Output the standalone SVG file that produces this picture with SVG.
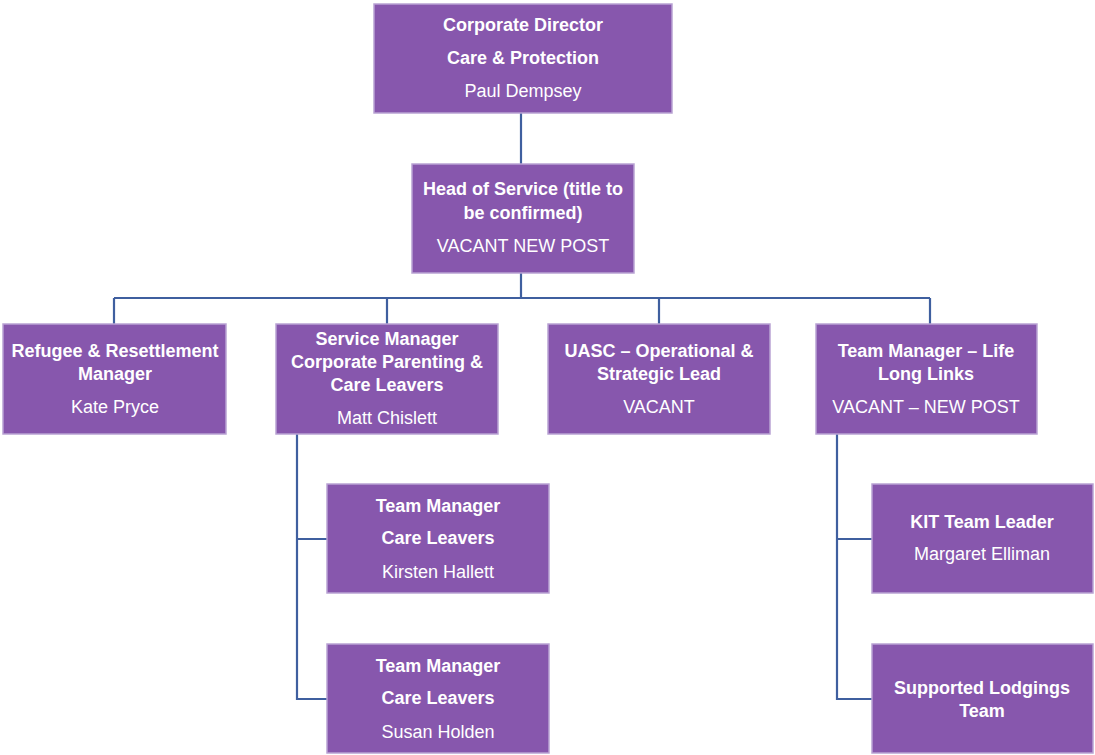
<svg xmlns="http://www.w3.org/2000/svg" width="1095" height="755" viewBox="0 0 1095 755">
<style>
.box{fill:#8757ad;stroke:#b9a3d3;stroke-width:1.5}
.t{font-family:"Liberation Sans",Arial,sans-serif;font-size:18px;fill:#ffffff;text-anchor:middle}
.b{font-weight:bold}
.c{fill:none;stroke:#3f5f9f;stroke-width:2.2}
</style>
<rect width="1095" height="755" fill="#ffffff"/>
<g id="connectors">
<path class="c" d="M521 113V164M521 273V298M114 298H930M114 298V324M387 298V324M659 298V324M930 298V324"/>
<path class="c" d="M297 434V699H327M297 539H327"/>
<path class="c" d="M837 434V699H872M837 539H872"/>
</g>
<g id="director">
<rect class="box" x="374" y="4" width="298" height="109"/>
<text class="t b" x="523" y="31">Corporate Director</text>
<text class="t b" x="523" y="64">Care &amp; Protection</text>
<text class="t" x="523" y="97">Paul Dempsey</text>
</g>
<g id="head">
<rect class="box" x="412" y="164" width="222" height="109"/>
<text class="t b" x="523" y="195">Head of Service (title to</text>
<text class="t b" x="523" y="219">be confirmed)</text>
<text class="t" x="523" y="252">VACANT NEW POST</text>
</g>
<g id="refugee">
<rect class="box" x="3" y="324" width="223" height="110"/>
<text class="t b" x="115" y="357">Refugee &amp; Resettlement</text>
<text class="t b" x="115" y="380">Manager</text>
<text class="t" x="115" y="413">Kate Pryce</text>
</g>
<g id="service-manager">
<rect class="box" x="276" y="324" width="222" height="110"/>
<text class="t b" x="387" y="345">Service Manager</text>
<text class="t b" x="387" y="368">Corporate Parenting &amp;</text>
<text class="t b" x="387" y="391">Care Leavers</text>
<text class="t" x="387" y="424">Matt Chislett</text>
</g>
<g id="uasc">
<rect class="box" x="548" y="324" width="222" height="110"/>
<text class="t b" x="659" y="357">UASC – Operational &amp;</text>
<text class="t b" x="659" y="380">Strategic Lead</text>
<text class="t" x="659" y="413">VACANT</text>
</g>
<g id="life-long-links">
<rect class="box" x="816" y="324" width="221" height="110"/>
<text class="t b" x="926" y="357">Team Manager – Life</text>
<text class="t b" x="926" y="380">Long Links</text>
<text class="t" x="926" y="413">VACANT – NEW POST</text>
</g>
<g id="care-leavers-1">
<rect class="box" x="327" y="484" width="222" height="109"/>
<text class="t b" x="438" y="512">Team Manager</text>
<text class="t b" x="438" y="544">Care Leavers</text>
<text class="t" x="438" y="578">Kirsten Hallett</text>
</g>
<g id="care-leavers-2">
<rect class="box" x="327" y="644" width="222" height="109"/>
<text class="t b" x="438" y="672">Team Manager</text>
<text class="t b" x="438" y="704">Care Leavers</text>
<text class="t" x="438" y="738">Susan Holden</text>
</g>
<g id="kit">
<rect class="box" x="872" y="484" width="221" height="109"/>
<text class="t b" x="982" y="528">KIT Team Leader</text>
<text class="t" x="982" y="560">Margaret Elliman</text>
</g>
<g id="supported-lodgings">
<rect class="box" x="872" y="644" width="221" height="109"/>
<text class="t b" x="982" y="694">Supported Lodgings</text>
<text class="t b" x="982" y="717">Team</text>
</g>
</svg>
